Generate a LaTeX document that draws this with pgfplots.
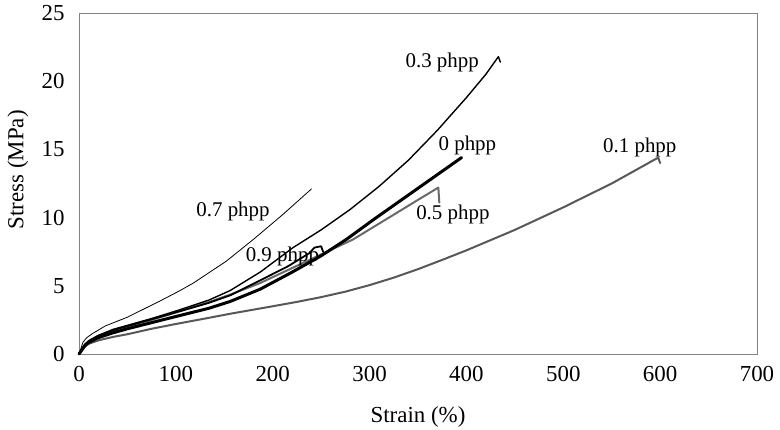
\documentclass[border=0pt]{standalone}
\usepackage{fontspec}
\setmainfont{Liberation Serif}
\usepackage{pgfplots}
\pgfplotsset{compat=1.18}
\definecolor{gA}{RGB}{88,88,88}
\definecolor{gB}{RGB}{105,105,105}
\definecolor{axc}{RGB}{130,130,130}
\begin{document}
\begin{tikzpicture}
\path[use as bounding box] (-79bp,-76bp) rectangle (701bp,354bp);
\begin{axis}[
  at={(0,0)}, anchor=south west,
  width=678bp, height=341bp, scale only axis,
  xmin=0, xmax=700, ymin=0, ymax=25,
  xtick={0,100,...,700}, ytick={0,5,...,25},
  major tick length=0pt,
  axis line style={axc, line width=0.8bp},
  tick label style={font=\fontsize{23}{23}\selectfont},
  /pgf/number format/assume math mode=true,
  xticklabel style={yshift=-9bp},
  yticklabel style={xshift=-11bp},
  label style={font=\fontsize{23}{23}\selectfont},
  xlabel={Strain (\%)}, ylabel={Stress (MPa)},
  xlabel style={at={(axis description cs:0.5,-0.185)}, anchor=center},
  ylabel style={at={(axis description cs:-0.09,0.54)}, anchor=center},
  clip=false,
  every axis plot/.append style={line join=round, line cap=round},
]
% 0.1 phpp
\addplot[gA, line width=2bp] coordinates {
(0,0)(3,0.3)(6,0.55)(10,0.75)(20,1.0)(35,1.25)(50,1.45)(75,1.85)(100,2.2)(134,2.65)(156,2.95)(200,3.5)(225,3.82)(250,4.17)(275,4.57)(300,5.05)(325,5.6)(350,6.22)(375,6.9)(400,7.6)(450,9.1)(500,10.75)(550,12.5)(598,14.4)(600,14.0)};
% 0.5 phpp
\addplot[gB, line width=2bp] coordinates {
(0,0)(3,0.35)(6,0.65)(10,0.9)(20,1.3)(35,1.7)(50,2.0)(75,2.5)(100,3.05)(134,3.8)(156,4.35)(187,5.2)(220,6.3)(250,7.3)(283,8.4)(320,10.0)(350,11.3)(371,12.2)(372,11.1)};
% 0 phpp
\addplot[black, line width=3bp] coordinates {
(0,0)(3,0.3)(6,0.6)(10,0.85)(20,1.2)(35,1.55)(50,1.85)(75,2.3)(100,2.75)(134,3.35)(156,3.85)(187,4.75)(220,6.0)(250,7.2)(276,8.4)(305,9.9)(335,11.4)(365,12.9)(395,14.4)};
% 0.9 phpp
\addplot[black, line width=1.8bp] coordinates {
(0,0)(3,0.35)(6,0.7)(10,0.95)(20,1.35)(35,1.75)(50,2.05)(75,2.55)(100,3.05)(134,3.75)(156,4.3)(187,5.4)(215,6.4)(238,7.4)(243,7.8)(250,7.9)(252,7.5)};
% 0.3 phpp
\addplot[black, line width=1.4bp] coordinates {
(0,0)(3,0.35)(6,0.7)(10,0.95)(20,1.35)(35,1.8)(50,2.1)(75,2.6)(100,3.15)(134,3.95)(156,4.65)(187,6.0)(204,6.9)(221,7.8)(250,9.1)(280,10.6)(310,12.3)(340,14.2)(370,16.4)(400,18.8)(420,20.5)(433,21.8)(435,21.4)};
% 0.7 phpp
\addplot[black, line width=0.8bp] coordinates {
(0,0)(2,0.4)(4,0.85)(8,1.2)(14,1.5)(27,2.05)(50,2.7)(84,3.9)(103,4.6)(118,5.2)(152,6.8)(180,8.4)(210,10.2)(240,12.1)};
\begin{scope}[every node/.style={font=\fontsize{21}{21}\selectfont, anchor=center, inner sep=0pt}]
\node at (axis cs:375,21.35) {0.3 phpp};
\node at (axis cs:401,15.28) {0 phpp};
\node at (axis cs:579,15.13) {0.1 phpp};
\node at (axis cs:159,10.45) {0.7 phpp};
\node at (axis cs:210,7.16) {0.9 phpp};
\node at (axis cs:386,10.23) {0.5 phpp};
\end{scope}
\end{axis}
\end{tikzpicture}
\end{document}
